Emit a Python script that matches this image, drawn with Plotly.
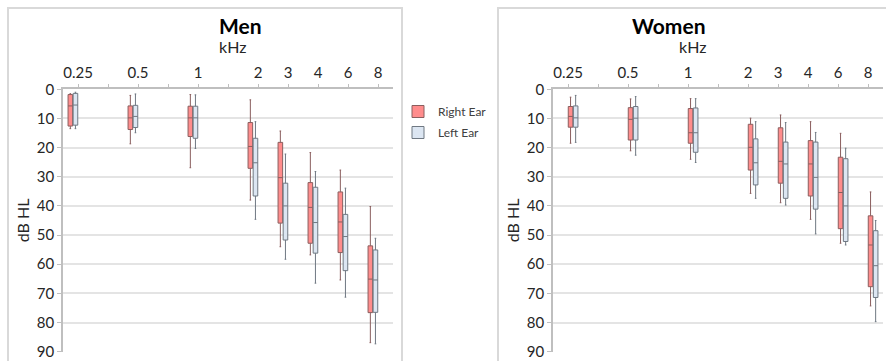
import plotly.graph_objects as go

# Audiometric frequencies (kHz) and their slot on the horizontal axis
freq_labels = ["0.25", "0.5", "1", "2", "3", "4", "6", "8"]
freq_slots = [0, 2, 4, 6, 7, 8, 9, 10]

# Hearing thresholds (dB HL): whisker min, Q1, median, Q3, whisker max
men_right_min = [1.5, 2.1, 1.8, 3.6, 14.3, 21.7, 27.7, 40.2]
men_right_q1 = [1.8, 5.7, 5.8, 11.4, 18.2, 32.0, 35.2, 53.7]
men_right_med = [5.7, 9.8, 9.8, 19.6, 30.3, 40.5, 45.5, 65.1]
men_right_q3 = [12.6, 13.8, 16.2, 27.1, 45.9, 52.8, 56.0, 76.6]
men_right_max = [13.5, 18.7, 26.9, 38.0, 54.0, 56.8, 65.4, 86.9]

men_left_min = [1.0, 1.6, 1.9, 11.1, 22.2, 28.2, 33.9, 51.1]
men_left_q1 = [1.4, 5.5, 5.8, 16.8, 32.2, 33.6, 42.9, 55.1]
men_left_med = [5.4, 9.3, 9.8, 25.2, 40.0, 45.7, 50.5, 65.4]
men_left_q3 = [12.3, 13.1, 16.8, 36.6, 51.7, 56.2, 62.2, 76.5]
men_left_max = [13.5, 14.9, 20.3, 44.6, 58.3, 66.5, 71.3, 87.3]

women_right_min = [2.7, 3.3, 3.2, 9.9, 8.8, 11.1, 15.1, 35.2]
women_right_q1 = [5.9, 6.3, 6.6, 12.0, 13.2, 17.6, 23.3, 43.4]
women_right_med = [9.3, 10.3, 14.9, 19.9, 24.7, 25.6, 35.4, 53.4]
women_right_q3 = [13.0, 17.4, 18.5, 27.7, 32.2, 36.6, 47.8, 67.7]
women_right_max = [18.5, 21.1, 24.0, 35.7, 38.9, 44.6, 52.8, 74.3]

women_left_min = [2.1, 2.5, 3.2, 11.1, 11.4, 14.8, 20.2, 45.0]
women_left_q1 = [5.7, 5.9, 6.4, 17.0, 18.1, 18.1, 23.8, 48.5]
women_left_med = [9.8, 9.9, 14.9, 25.2, 25.6, 30.2, 40.0, 60.5]
women_left_q3 = [13.0, 17.4, 21.6, 32.8, 37.4, 41.1, 52.2, 71.4]
women_left_max = [18.2, 22.6, 25.1, 37.4, 39.7, 49.6, 53.4, 79.7]

y_ticks = [0, 10, 20, 30, 40, 50, 60, 70, 80, 90]

W, H = 886, 361
RED_FILL, RED_LINE = "#ff8c8c", "#8a5e5e"
BLUE_FILL, BLUE_LINE = "#dce6f2", "#6f7882"
TEXT = "#262626"
FONT = "Lato"


def px(x):
    return x / W


def py(y):
    return 1 - y / H


fig = go.Figure()


def add_boxes(name, xa, ya, lo, q1, med, q3, hi, fill, line, legend):
    fig.add_trace(go.Box(
        name=name, x=freq_slots, q1=q1, median=med, q3=q3,
        lowerfence=lo, upperfence=hi, xaxis=xa, yaxis=ya,
        fillcolor=fill, line=dict(color=line, width=1),
        whiskerwidth=0.35, boxpoints=False, hoverinfo="y",
        legendgroup=name, showlegend=legend,
    ))


add_boxes("Right Ear", "x", "y", men_right_min, men_right_q1, men_right_med,
          men_right_q3, men_right_max, RED_FILL, RED_LINE, True)
add_boxes("Left Ear", "x", "y", men_left_min, men_left_q1, men_left_med,
          men_left_q3, men_left_max, BLUE_FILL, BLUE_LINE, True)
add_boxes("Right Ear", "x2", "y2", women_right_min, women_right_q1, women_right_med,
          women_right_q3, women_right_max, RED_FILL, RED_LINE, False)
add_boxes("Left Ear", "x2", "y2", women_left_min, women_left_q1, women_left_med,
          women_left_q3, women_left_max, BLUE_FILL, BLUE_LINE, False)

tick_vals = list(range(11))
tick_text = [freq_labels[freq_slots.index(k)] if k in freq_slots else "" for k in tick_vals]

xaxis_common = dict(
    side="top", range=[-0.5, 10.5], tickmode="array", tickvals=tick_vals,
    ticktext=tick_text, ticks="outside", ticklen=4, tickcolor="#bfbfbf",
    showline=True, linecolor="#bfbfbf", linewidth=1.5, showgrid=False,
    zeroline=False, automargin=False,
    tickfont=dict(family=FONT, size=15, color=TEXT),
)
yaxis_common = dict(
    range=[90, 0], tickmode="array", tickvals=y_ticks, ticks="outside",
    ticklen=4, tickcolor="#bfbfbf", showline=True, linecolor="#bfbfbf",
    linewidth=1.5, showgrid=True, gridcolor="#e4e4e4", gridwidth=2,
    zeroline=False, automargin=False,
    tickfont=dict(family=FONT, size=15, color=TEXT),
    title=dict(text="dB HL", font=dict(family=FONT, size=16, color=TEXT), standoff=3),
)

y_dom = [py(351.7), py(89.3)]
fig.update_layout(
    width=W, height=H, margin=dict(l=0, r=0, t=0, b=0, autoexpand=False),
    paper_bgcolor="white", plot_bgcolor="white",
    boxmode="group", boxgap=0.32, boxgroupgap=0.1,
    xaxis=dict(domain=[px(63), px(393)], anchor="y", **xaxis_common),
    yaxis=dict(domain=y_dom, anchor="x", **yaxis_common),
    xaxis2=dict(domain=[px(553), px(883)], anchor="y2", **xaxis_common),
    yaxis2=dict(domain=y_dom, anchor="x2", **yaxis_common),
    legend=dict(x=px(398), y=py(97), xanchor="left", yanchor="top",
                font=dict(family=FONT, size=12, color="#404040"),
                bgcolor="rgba(0,0,0,0)", tracegroupgap=2),
    font=dict(family=FONT, color=TEXT),
)

# Chart-area frames around each panel
for x0, x1 in [(8, 402), (498, 895)]:
    fig.add_shape(type="rect", xref="paper", yref="paper",
                  x0=px(x0), x1=px(x1), y0=py(370), y1=py(8),
                  line=dict(color="#d9d9d9", width=2), fillcolor="rgba(0,0,0,0)",
                  layer="below")

# Panel titles and frequency unit
for cx, title in [(217, "Men"), (708, "Women")]:
    fig.add_annotation(x=px(cx), y=py(25), xref="paper", yref="paper",
                       yanchor="middle", text=f"<b>{title}</b>", showarrow=False,
                       font=dict(family=FONT, size=21, color="#000000"))
    fig.add_annotation(x=px(cx), y=py(47), xref="paper", yref="paper",
                       yanchor="middle", text="kHz", showarrow=False,
                       font=dict(family=FONT, size=16, color=TEXT))

fig.write_html("out.html")
